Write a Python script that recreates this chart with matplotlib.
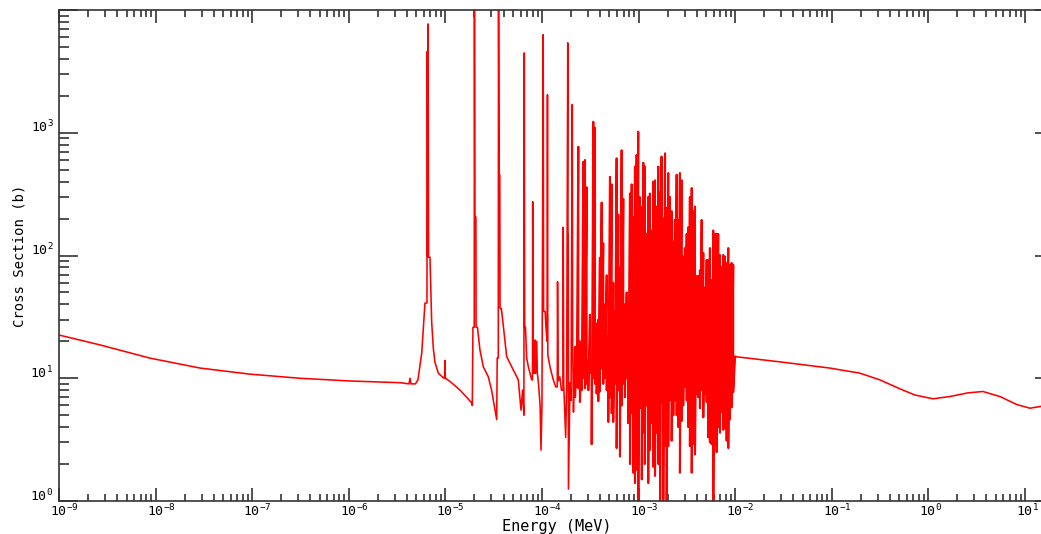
import numpy as np
import matplotlib
matplotlib.use('Agg')
import matplotlib.pyplot as plt
import matplotlib.transforms as mtransforms
from matplotlib.ticker import FixedLocator, FuncFormatter, NullFormatter

# ── Style ─────────────────────────────────────────────────────────────────────
plt.rcParams.update({
    'font.family': 'DejaVu Sans Mono',
    'mathtext.fontset': 'custom',
    'mathtext.rm': 'DejaVu Sans Mono',
    'mathtext.it': 'DejaVu Sans Mono',
    'axes.linewidth': 1.2,
    'axes.edgecolor': '#333333',
})

# ── Data (energy in MeV, cross section in barns) ─────────────────────────────
# smooth part + isolated resonances, read as a polyline
low_E = [1.0e-9, 2.65e-9, 8.7e-9, 2.9e-8, 9.5e-8, 3.1e-7, 1.03e-6, 3.4e-6,
         4.2e-6, 4.31e-6, 4.4e-6, 4.9e-6, 5.2e-6, 5.69e-6, 6.15e-6, 6.45e-6,
         6.50e-6, 6.56e-6, 6.62e-6, 6.70e-6, 6.93e-6, 7.21e-6, 7.50e-6, 7.80e-6,
         8.45e-6, 9.5e-6, 9.8e-6, 9.91e-6, 1.0e-5, 1.12e-5, 1.42e-5, 1.66e-5,
         1.87e-5, 1.90e-5, 1.93e-5, 1.99e-5, 2.00e-5, 2.02e-5, 2.07e-5, 2.08e-5,
         2.15e-5, 2.28e-5, 2.47e-5, 2.78e-5, 3.01e-5, 3.40e-5, 3.44e-5, 3.53e-5,
         3.55e-5, 3.60e-5, 3.66e-5, 3.68e-5, 3.80e-5, 4.13e-5, 4.31e-5, 4.86e-5,
         5.69e-5, 6.07e-5, 6.30e-5, 6.50e-5, 6.56e-5, 6.62e-5, 6.75e-5, 6.95e-5,
         7.23e-5, 7.83e-5, 7.98e-5, 8.02e-5, 8.10e-5, 8.40e-5, 8.48e-5, 8.60e-5,
         8.83e-5, 8.95e-5, 9.19e-5, 9.57e-5, 9.77e-5, 1.00e-4, 1.03e-4, 1.04e-4,
         1.08e-4, 1.10e-4, 1.13e-4, 1.14e-4, 1.15e-4, 1.21e-4, 1.31e-4, 1.39e-4,
         1.44e-4, 1.45e-4, 1.47e-4, 1.53e-4, 1.59e-4, 1.65e-4, 1.66e-4, 1.68e-4,
         1.76e-4, 1.80e-4, 1.85e-4, 1.86e-4, 1.87e-4, 1.88e-4, 1.95e-4, 2.00e-4,
         2.06e-4, 2.08e-4, 2.12e-4, 2.16e-4]
low_sigma = [22.5, 18.7, 14.6, 12.1, 10.8, 10.0, 9.5, 9.2,
             9.0, 10.0, 9.0, 9.0, 9.7, 16, 41, 41,
             4600, 97, 7700, 97, 97, 29, 17.6, 13.5,
             11, 10.1, 10.0, 14, 10.0, 9.4, 8.0, 7.0,
             6.3, 6.0, 26, 26, 2e4, 206, 206, 26,
             26, 17, 12.4, 10.3, 8.0, 4.6, 14.6, 14.6,
             2e4, 455, 455, 37, 37, 20.5, 15, 12.4,
             9.7, 5.5, 8.0, 5.0, 4470, 26, 26, 14.6,
             12.4, 9.7, 9.7, 274, 11, 11, 20.5, 11,
             20, 11, 9.2, 6.0, 2.6, 6.0, 6300, 35,
             35, 26, 20, 2040, 15.5, 12.4, 9.7, 8.5,
             8.5, 61, 9.5, 10.3, 8.0, 8.0, 170, 9.0,
             3.3, 8.0, 5400, 150, 150, 1.25, 9.2, 6.6,
             1700, 17.6, 5.3, 12]

# dense resonance region: energy, peak and dip of each spike
dense_E = [2.20e-4, 2.29e-4, 2.38e-4, 2.47e-4, 2.58e-4, 2.68e-4, 2.79e-4, 2.90e-4,
           3.02e-4, 3.14e-4, 3.27e-4, 3.40e-4, 3.54e-4, 3.68e-4, 3.83e-4, 3.98e-4,
           4.15e-4, 4.31e-4, 4.49e-4, 4.68e-4, 4.86e-4, 5.06e-4, 5.27e-4, 5.47e-4,
           5.70e-4, 5.93e-4, 6.17e-4, 6.42e-4, 6.68e-4, 6.95e-4, 7.23e-4, 7.53e-4,
           7.82e-4, 8.15e-4, 8.49e-4, 8.81e-4, 9.18e-4, 9.55e-4, 9.93e-4, 1.03e-3,
           1.08e-3, 1.12e-3, 1.16e-3, 1.21e-3, 1.26e-3, 1.31e-3, 1.37e-3, 1.42e-3,
           1.48e-3, 1.54e-3, 1.60e-3, 1.67e-3, 1.73e-3, 1.80e-3, 1.88e-3, 1.95e-3,
           2.03e-3, 2.11e-3, 2.20e-3, 2.29e-3, 2.38e-3, 2.48e-3, 2.58e-3, 2.68e-3,
           2.79e-3, 2.90e-3, 3.02e-3, 3.15e-3, 3.27e-3, 3.40e-3, 3.55e-3, 3.68e-3,
           3.84e-3, 3.99e-3, 4.15e-3, 4.32e-3, 4.50e-3, 4.68e-3, 4.87e-3, 5.07e-3,
           5.27e-3, 5.48e-3, 5.71e-3, 5.93e-3, 6.18e-3, 6.43e-3, 6.68e-3, 6.96e-3,
           7.24e-3, 7.53e-3, 7.84e-3, 8.16e-3, 8.49e-3, 8.83e-3, 9.20e-3, 9.55e-3]
dense_peak = [18, 14, 770, 20, 15, 580, 600, 360,
              14, 33, 12, 1230, 1100, 28, 30, 96,
              270, 126, 40, 69, 22, 437, 380, 60,
              35, 620, 215, 80, 720, 290, 40, 50,
              42, 320, 380, 206, 530, 660, 1020, 300,
              250, 570, 530, 150, 300, 320, 160, 400,
              410, 250, 530, 330, 640, 200, 680, 245,
              470, 300, 230, 130, 195, 455, 195, 470,
              410, 98, 115, 150, 170, 300, 355, 230,
              250, 68, 68, 76, 195, 105, 55, 92,
              92, 115, 63, 160, 150, 150, 150, 101,
              81, 101, 98, 87, 115, 84, 87, 84]
dense_dip = [7, 8.5, 8.3, 6.4, 8, 10, 8.3, 9,
             8, 11, 2.9, 10, 9, 7.5, 6.5, 7.8,
             12, 9, 10, 8, 4.4, 7, 5.2, 4.4,
             9, 2.7, 8, 2.3, 6, 9, 7, 10,
             4.3, 2.0, 5.2, 1.7, 1.4, 1.8, 0.5, 5.7,
             1.5, 3.6, 2.0, 6, 1.4, 2.6, 4.3, 1.9,
             1.6, 3.6, 2.0, 0.5, 6.3, 0.5, 2.8, 0.5,
             2.8, 6.6, 3.1, 5, 6.6, 5.0, 4, 1.7,
             4.5, 6, 8.5, 6.6, 4, 2.8, 1.7, 2.9,
             2.4, 7.5, 7, 5.7, 8, 4.8, 7.5, 6.4,
             3.3, 3.0, 2.9, 0.5, 2.9, 2.5, 4, 3.6,
             5.3, 3.8, 3.9, 3.1, 2.7, 4.6, 5.8, 7.7]

# smooth part above the resonance region
high_E = [1.0e-2, 2.91e-2, 9.57e-2, 0.196, 0.315, 0.508, 0.726, 1.12,
          1.67, 2.57, 3.67, 5.51, 8.26, 11.3, 14.6, 20.0]
high_sigma = [15.0, 13.6, 12.1, 11.0, 9.7, 8.2, 7.3, 6.8,
              7.1, 7.6, 7.8, 7.1, 6.1, 5.7, 5.9, 6.2]

# axis decades
x_decades = list(range(-9, 2))
y_decades = list(range(0, 5))

# ── Assemble the dense zig-zag ────────────────────────────────────────────────
dense_x, dense_y = [low_E[-1]], [low_sigma[-1]]
for e, p, d in zip(dense_E, dense_peak, dense_dip):
    dense_x += [e, e]
    dense_y += [p, d]
dense_x.append(high_E[0])
dense_y.append(high_sigma[0])

# ── Figure ────────────────────────────────────────────────────────────────────
W, H = 1041, 534
fig = plt.figure(figsize=(W / 100, H / 100), dpi=100)
fig.patch.set_facecolor('white')
ax = fig.add_axes([59 / W, 1 - 501 / H, 995 / W, 491 / H])

red = '#ff0000'
ax.plot(low_E, low_sigma, color=red, linewidth=1.15)
ax.plot(dense_x, dense_y, color=red, linewidth=1.5)
ax.plot(high_E, high_sigma, color=red, linewidth=1.15)

ax.set_xscale('log')
ax.set_yscale('log')
ax.set_xlim(1e-9, 20)
ax.set_ylim(1, 1e4)

x_major = [10.0 ** d for d in x_decades]
y_major = [10.0 ** d for d in y_decades]
x_minor = [m * 10.0 ** d for d in x_decades + [2] for m in range(2, 10)]
y_minor = [m * 10.0 ** d for d in y_decades[:-1] for m in range(2, 10)]


def dec_label(v, pos):
    e = int(round(np.log10(v)))
    if e >= 4:
        return ''
    return f'$10^{{{e}}}$'


fmt = FuncFormatter(dec_label)
ax.xaxis.set_major_locator(FixedLocator(x_major))
ax.yaxis.set_major_locator(FixedLocator(y_major))
ax.xaxis.set_minor_locator(FixedLocator([v for v in x_minor if v < 20]))
ax.yaxis.set_minor_locator(FixedLocator(y_minor))
ax.xaxis.set_major_formatter(fmt)
ax.yaxis.set_major_formatter(fmt)
ax.xaxis.set_minor_formatter(NullFormatter())
ax.yaxis.set_minor_formatter(NullFormatter())

ax.tick_params(which='both', direction='in', top=True, right=True,
               color='#222222', width=1.1, labelsize=9.5)
ax.tick_params(axis='x', which='major', length=9.5, pad=1.5)
ax.tick_params(axis='x', which='minor', length=5)
ax.tick_params(axis='y', which='major', length=14, pad=4)
ax.tick_params(axis='y', which='minor', length=7)

ax.set_xlabel('Energy (MeV)', fontsize=11, va='baseline')
ax.set_ylabel('Cross Section (b)', fontsize=10)
ax.xaxis.set_label_coords(0.5, -0.0615)
ax.yaxis.set_label_coords(-0.033, 0.5)

fig.canvas.draw()
# x tick labels start slightly left of the tick, y labels sit on the tick
shift = mtransforms.ScaledTranslation(-9 / 100, 0, fig.dpi_scale_trans)
for lab in ax.get_xticklabels():
    lab.set_horizontalalignment('left')
    lab.set_transform(lab.get_transform() + shift)
for lab in ax.get_yticklabels():
    lab.set_verticalalignment('baseline')

fig.savefig('out.png', dpi=100)
